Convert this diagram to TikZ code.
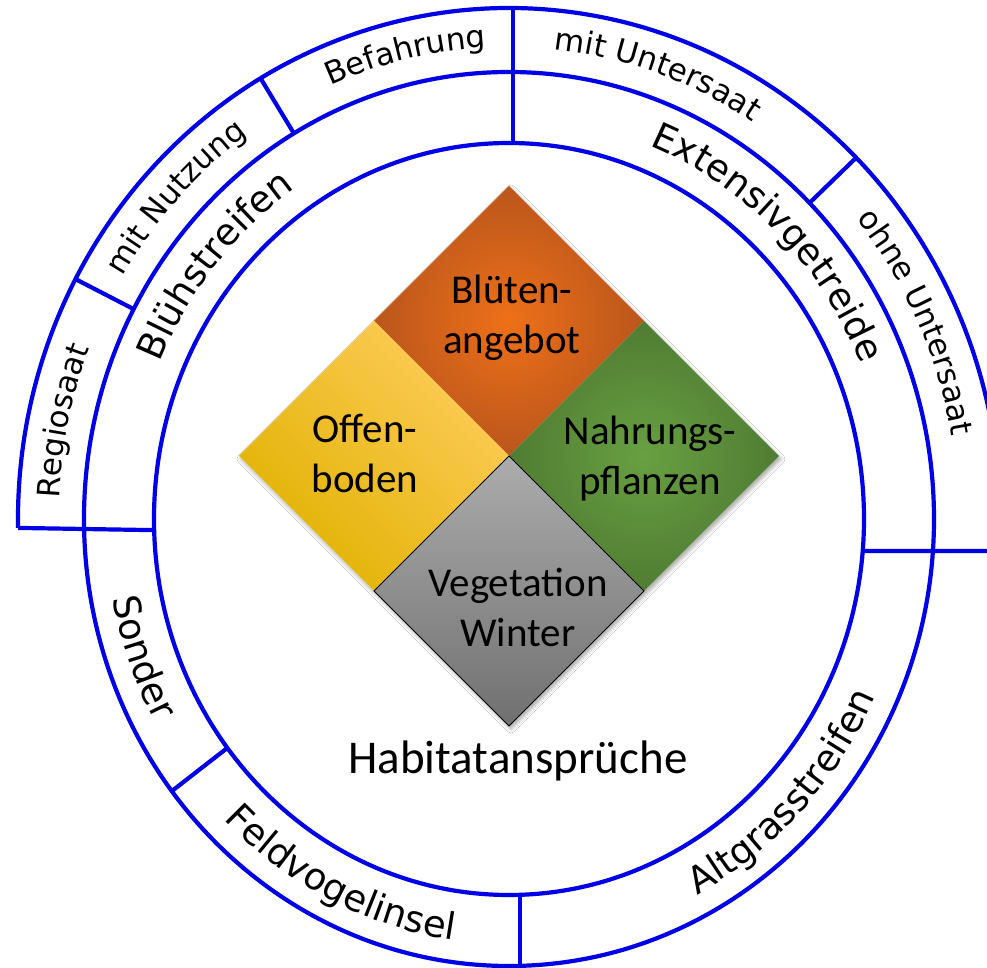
\documentclass[tikz,border=0pt]{standalone}
\usepackage{fontspec}
\newfontfamily\dejavu{DejaVu Sans}
\newfontfamily\carl{Carlito}
\usetikzlibrary{decorations.text,shadows.blur}
\definecolor{ringblue}{RGB}{0,0,230}
\definecolor{orangeIn}{RGB}{238,112,24}
\definecolor{orangeOut}{RGB}{186,86,28}
\definecolor{yelTop}{RGB}{255,204,90}
\definecolor{yelMid}{RGB}{255,196,0}
\definecolor{yelBot}{RGB}{224,178,0}
\definecolor{greenIn}{RGB}{104,160,66}
\definecolor{greenOut}{RGB}{80,124,50}
\definecolor{grayTop}{RGB}{172,172,172}
\definecolor{grayBot}{RGB}{112,112,112}
\newcommand{\outerfont}{\dejavu\fontsize{31}{36}\selectfont}
\newcommand{\midfont}{\dejavu\fontsize{37}{44}\selectfont}
\tikzset{
  ring/.style={draw=ringblue, line width=4.2pt},
  ringlabel/.style={decorate, decoration={text along path, text align=center, text={#1}}},
  fieldtext/.style={font=\carl\fontsize{41}{50}\selectfont, align=center, inner sep=0pt},
  squareshadow/.style={blur shadow={shadow xshift=2pt, shadow yshift=-3pt, shadow blur radius=4pt, shadow opacity=35}}
}
\begin{document}
\begin{tikzpicture}[x=1pt,y=1pt]
\useasboundingbox (-509,-449) rectangle (478,519);
\clip (-509,-449) rectangle (478,519);
\fill[white] (-509,-449) rectangle (478,519);

% central diamond
\fill[white, squareshadow] (0,333) -- (270,63) -- (0,-207) -- (-270,63) -- cycle;
\shade[inner color=orangeIn, outer color=orangeOut] (0,333) -- (135,198) -- (0,63) -- (-135,198) -- cycle;
\shade[top color=yelTop, middle color=yelMid, bottom color=yelBot, shading angle=-45] (-135,198) -- (0,63) -- (-135,-72) -- (-270,63) -- cycle;
\shade[inner color=greenIn, outer color=greenOut] (135,198) -- (270,63) -- (135,-72) -- (0,63) -- cycle;
\shade[top color=grayTop, bottom color=grayBot, draw=black, line width=0.8pt] (0,63) -- (135,-72) -- (0,-207) -- (-135,-72) -- cycle;

\node[fieldtext] (bluete) at (3,201) {Blüten-\\angebot};
\node[fieldtext] (offen) at (-144,65.5) {Offen-\\boden};
\node[fieldtext] (nahrung) at (141,60) {Nahrungs-\\pflanzen};
\node[fieldtext] (veg) at (9,-88) {Vegetation\\Winter};
\node[anchor=base, font=\carl\fontsize{47}{56}\selectfont, inner sep=0pt] (habitat) at (9,-254) {Habitatansprüche};

% rings
\draw[ring] (0,0) ellipse [x radius=355, y radius=376];
\draw[ring] (0,0) ellipse [x radius=425, y radius=447];
\draw[ring] (-5:491 and 511) arc[start angle=-5, end angle=181, x radius=491, y radius=511];

% separators
\draw[ring] (4,376) -- (4,511);
\draw[ring] (11,-375) -- (11,-448);
\draw[ring] (181:491 and 511) -- (181.7:355 and 376);
\draw[ring] (-4.88:355 and 376) -- (490,-32);
\draw[ring] (120.4:425 and 447) -- (120.4:491 and 511);
\draw[ring] (152:425 and 447) -- (152:491 and 511);
\draw[ring] (45:425 and 447) -- (45:491 and 511);
\draw[ring] (217.5:355 and 376) -- (217.5:425 and 447);

% outer ring labels
\path[ringlabel={|\outerfont|Regiosaat}] (200:450 and 472) arc[start angle=200, end angle=136, x radius=450, y radius=472];
\path[ringlabel={|\outerfont|mit Nutzung}] (169:450 and 472) arc[start angle=169, end angle=105, x radius=450, y radius=472];
\path[ringlabel={|\outerfont|Befahrung}] (135:450 and 472) arc[start angle=135, end angle=71, x radius=450, y radius=472];
\path[ringlabel={|\outerfont|mit Untersaat}] (103:450 and 472) arc[start angle=103, end angle=39, x radius=450, y radius=472];
\path[ringlabel={|\outerfont|ohne Untersaat}] (57:450 and 472) arc[start angle=57, end angle=-7, x radius=450, y radius=472];

% middle ring labels
\path[ringlabel={|\midfont|Blühstreifen}] (185:379 and 400) arc[start angle=185, end angle=95, x radius=379, y radius=400];
\path[ringlabel={|\midfont|Extensivgetreide}] (91:381 and 402) arc[start angle=91, end angle=1, x radius=381, y radius=402];
\path[ringlabel={|\midfont|Sonder}] (160:403 and 425) arc[start angle=160, end angle=240, x radius=403, y radius=425];
\path[ringlabel={|\midfont|Feldvogelinsel}] (199:403 and 425) arc[start angle=199, end angle=289, x radius=403, y radius=425];
\path[ringlabel={|\midfont|Altgrasstreifen}] (271:403 and 425) arc[start angle=271, end angle=361, x radius=403, y radius=425];
\end{tikzpicture}
\end{document}
